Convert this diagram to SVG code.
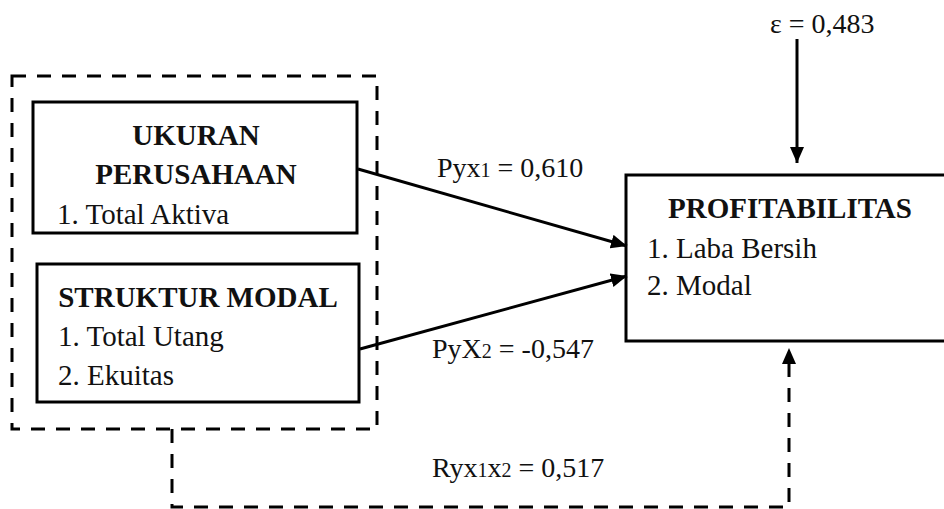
<svg xmlns="http://www.w3.org/2000/svg" width="944" height="509" viewBox="0 0 944 509">
  <style>
    .box { fill: #fff; stroke: #000; stroke-width: 3; }
    .dash { fill: none; stroke: #000; stroke-width: 3; stroke-dasharray: 14 11; }
    .line { fill: none; stroke: #000; stroke-width: 3; }
    text { font-family: "Liberation Serif", "Times New Roman", serif; font-size: 29px; fill: #111; }
    .title { font-weight: bold; text-anchor: middle; }
    .lbl { font-size: 28px; }
    .sub { font-size: 20px; }
  </style>
  <defs>
    <marker id="arrow" markerUnits="userSpaceOnUse" markerWidth="16" markerHeight="14" refX="16" refY="7" orient="auto">
      <path d="M0,0 L16,7 L0,14 Z" fill="#000"/>
    </marker>
  </defs>

  <rect width="944" height="509" fill="#fff"/>

  <!-- dashed frame around the two independent variables -->
  <g id="group-x">
    <rect class="dash" x="12" y="76" width="365" height="353"/>
  </g>

  <g id="node-ukuran">
    <rect class="box" x="33" y="102" width="324" height="131"/>
    <text class="title" x="196" y="145">UKURAN</text>
    <text class="title" x="196" y="184">PERUSAHAAN</text>
    <text x="57" y="224">1. Total Aktiva</text>
  </g>

  <g id="node-struktur">
    <rect class="box" x="37" y="264" width="322" height="138"/>
    <text class="title" x="198" y="307">STRUKTUR MODAL</text>
    <text x="58" y="346">1. Total Utang</text>
    <text x="58" y="385">2. Ekuitas</text>
  </g>

  <g id="node-profitabilitas">
    <rect class="box" x="626" y="175" width="330" height="166"/>
    <text class="title" x="790" y="218">PROFITABILITAS</text>
    <text x="647" y="258">1. Laba Bersih</text>
    <text x="647" y="295">2. Modal</text>
  </g>

  <g id="node-epsilon">
    <text class="lbl" x="770" y="33">ε = 0,483</text>
  </g>

  <g id="connectors">
    <line class="line" x1="358" y1="169" x2="627" y2="246" marker-end="url(#arrow)"/>
    <line class="line" x1="360" y1="349" x2="627" y2="276" marker-end="url(#arrow)"/>
    <line class="line" x1="797" y1="39" x2="797" y2="163" marker-end="url(#arrow)"/>
    <polyline class="dash" points="172,429 172,507 789,507 789,364"/>
    <path d="M782,364 L789,348 L796,364 Z" fill="#000"/>
  </g>

  <g id="labels">
    <text class="lbl" x="437" y="177">Pyx<tspan class="sub">1</tspan> = 0,610</text>
    <text class="lbl" x="432" y="358">PyX<tspan class="sub">2</tspan> = -0,547</text>
    <text class="lbl" x="432" y="477">Ryx<tspan class="sub">1</tspan>x<tspan class="sub">2</tspan> = 0,517</text>
  </g>
</svg>
